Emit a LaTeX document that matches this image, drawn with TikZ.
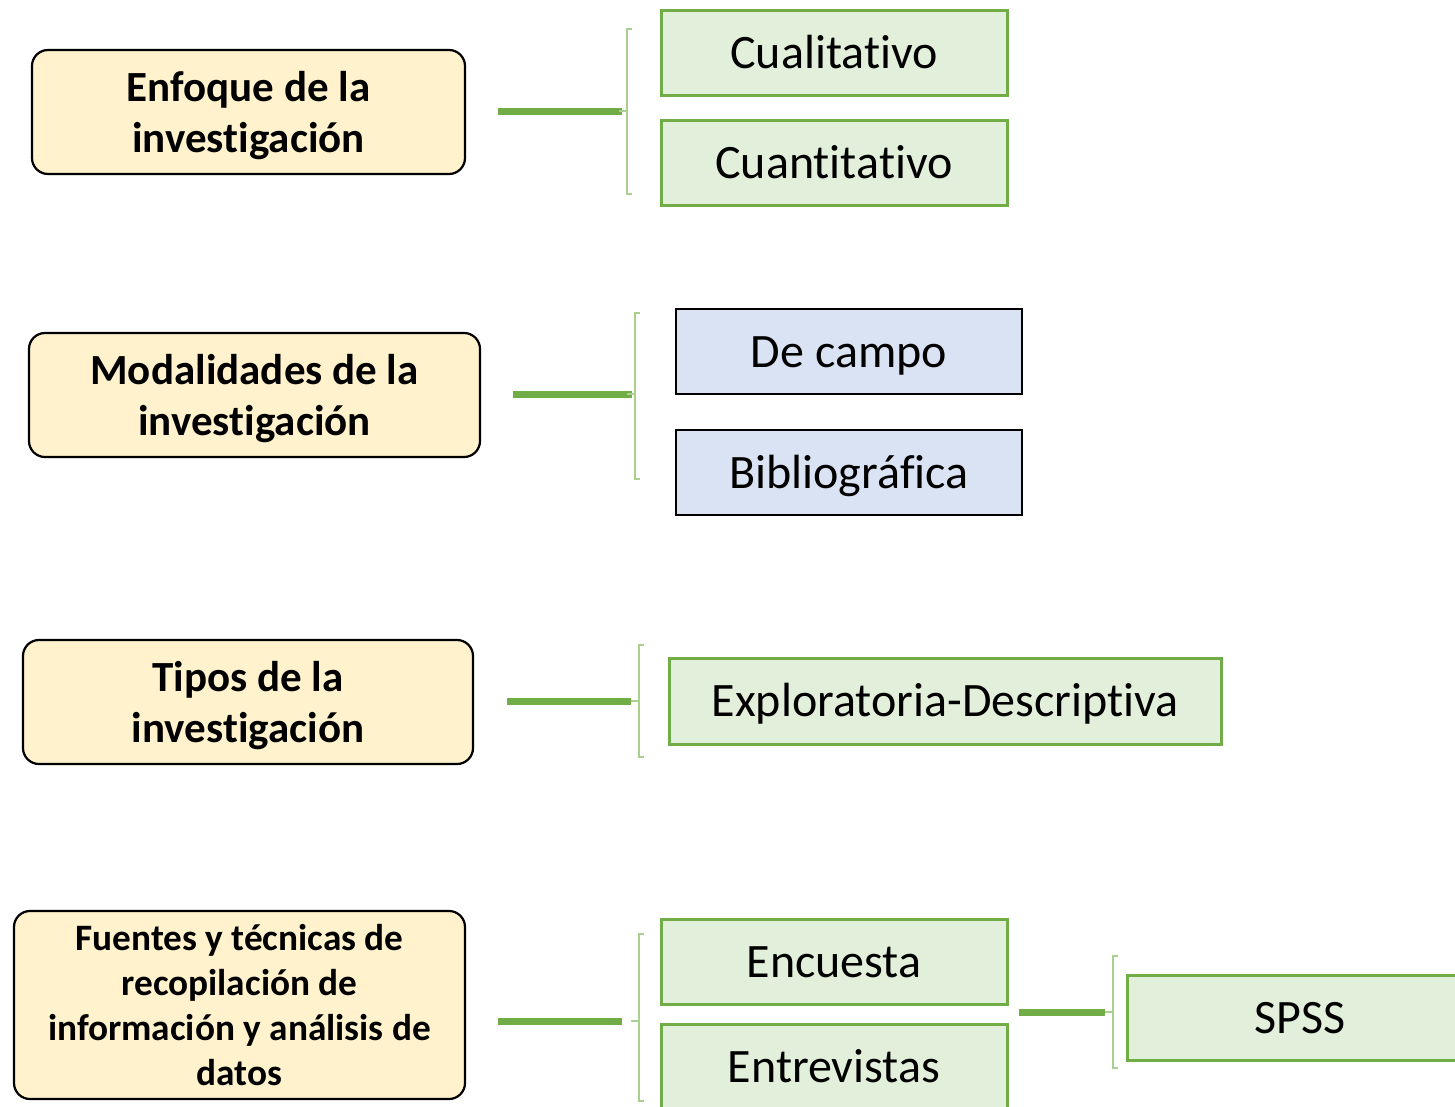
\documentclass[tikz,border=0pt]{standalone}
\usepackage{fontspec}
\setmainfont{Carlito}[Ligatures=NoCommon]
\definecolor{tema}{HTML}{FFF2CC}
\definecolor{verdeclaro}{HTML}{E2EFDA}
\definecolor{verde}{HTML}{70AD47}
\definecolor{llaveverde}{HTML}{A9D08E}
\definecolor{azulclaro}{HTML}{DAE3F3}
\tikzset{
  temabox/.style={draw=black, line width=2.2pt, rounded corners=16pt, fill=tema,
    inner sep=0pt, minimum width=450pt, minimum height=124pt, align=center,
    text depth=0pt, font=\bfseries\fontsize{43}{51}\selectfont},
  opcion/.style={draw=verde, line width=3pt, fill=verdeclaro, inner sep=0pt,
    minimum width=346pt, minimum height=85pt, text height=34pt, text depth=3pt,
    font=\fontsize{48}{54}\selectfont},
  opcionazul/.style={opcion, draw=black, line width=2.4pt, fill=azulclaro},
  enlace/.style={draw=verde, line width=7pt},
  llave/.style={draw=llaveverde, line width=1.6pt},
}
\begin{document}
\begin{tikzpicture}[x=1pt,y=-1pt]
\useasboundingbox (0,0) rectangle (1455,1106);
\clip (0,0) rectangle (1455,1106);
% temas
\node[temabox, minimum width=433pt] (enf) at (248.5,112) {Enfoque de la\\investigación};
\node[temabox, minimum width=451pt] (mod) at (254.5,395) {Modalidades de la\\investigación};
\node[temabox] (tip) at (248,702) {Tipos de la\\investigación};
\node[temabox, minimum width=451pt, minimum height=188pt,
  font=\bfseries\fontsize{37.3}{45}\selectfont] (fue) at (239.5,1005)
  {Fuentes y técnicas de\\recopilación de\\información y análisis de\\datos};
% opciones
\node[opcion] (cual) at (834,52.5) {Cualitativo};
\node[opcion] (cuan) at (834,162.5) {Cuantitativo};
\node[opcionazul] (camp) at (849,351.5) {De campo};
\node[opcionazul] (bibl) at (849,472.5) {Bibliográfica};
\node[opcion, minimum width=552pt, minimum height=86pt] (expl) at (945,701) {Exploratoria-Descriptiva};
\node[opcion] (encu) at (834,961.5) {Encuesta};
\node[opcion] (entr) at (834,1066.5) {Entrevistas};
\node[opcion] (spss) at (1300,1017.5) {SPSS};
% llaves
\coordinate (ll1) at (627,111);
\coordinate (ll2) at (635,394);
\coordinate (ll3) at (639,701);
\coordinate (ll4) at (639,1021);
\coordinate (ll5) at (1113,1012);
\draw[llave] ([xshift=5pt]ll1 |- 0,29) -- (ll1 |- 0,29) -- (ll1 |- 0,194) -- ++(5,0);
\draw[llave] ([xshift=5pt]ll2 |- 0,313) -- (ll2 |- 0,313) -- (ll2 |- 0,479) -- ++(5,0);
\draw[llave] ([xshift=5pt]ll3 |- 0,645) -- (ll3 |- 0,645) -- (ll3 |- 0,757) -- ++(5,0);
\draw[llave] ([xshift=5pt]ll4 |- 0,934) -- (ll4 |- 0,934) -- (ll4 |- 0,1101) -- ++(5,0);
\draw[llave] ([xshift=5pt]ll5 |- 0,956) -- (ll5 |- 0,956) -- (ll5 |- 0,1068) -- ++(5,0);
% enlaces
\draw[enlace] ([xshift=32pt]enf.east |- ll1) -- ([xshift=-5pt]ll1);
\draw[enlace] ([xshift=32pt]mod.east |- ll2) -- ([xshift=-3pt]ll2);
\draw[enlace] ([xshift=33pt]tip.east |- ll3) -- ([xshift=-8pt]ll3);
\draw[enlace] ([xshift=32pt]fue.east |- ll4) -- ([xshift=-17pt]ll4);
\draw[enlace] ([xshift=10pt]encu.east |- ll5) -- ([xshift=-8pt]ll5);
\foreach \n in {1,...,5}
  \draw[llave] (ll\n) -- ++(-8,0);
\end{tikzpicture}
\end{document}
